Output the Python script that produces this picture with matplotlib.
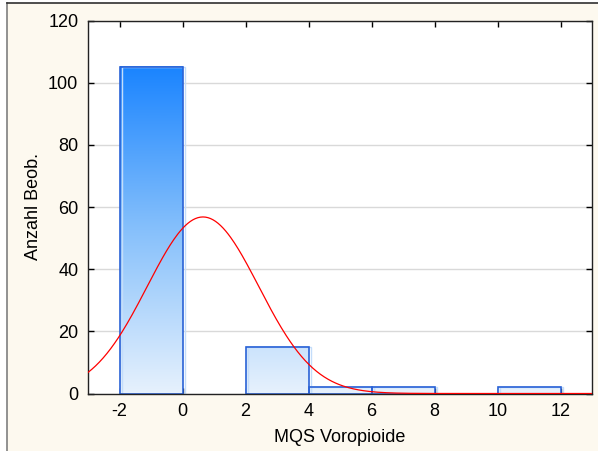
import numpy as np
import matplotlib.pyplot as plt
from matplotlib.colors import LinearSegmentedColormap, Normalize
from matplotlib.patches import Rectangle
from matplotlib.lines import Line2D

# histogram of MQS Voropioide, bins of width 2
bin_edges = [-2, 0, 2, 4, 6, 8, 10, 12]
counts = [105, 0, 15, 2, 2, 0, 2]

# fitted normal distribution
fit_mean = 0.65
fit_sd = 1.77

x_ticks = [-2, 0, 2, 4, 6, 8, 10, 12]
y_ticks = [0, 20, 40, 60, 80, 100, 120]

plt.rcParams['font.family'] = ['Liberation Sans', 'DejaVu Sans']
plt.rcParams['axes.unicode_minus'] = False

fig = plt.figure(figsize=(5.98, 4.51), dpi=100)
fig.patch.set_facecolor('white')

# cream panel with a thin frame at the left and top
bg = Rectangle((7 / 598, 0), 1, 1 - 3 / 451, transform=fig.transFigure,
               facecolor='#fdf9ef', edgecolor='none', zorder=-5)
fig.add_artist(bg)
fig.add_artist(Line2D([7 / 598, 7 / 598], [0, 1 - 3 / 451], transform=fig.transFigure,
                      color='#7f7f7f', lw=1.2))
fig.add_artist(Line2D([7 / 598, 1], [1 - 3 / 451, 1 - 3 / 451], transform=fig.transFigure,
                      color='#303030', lw=1.2))

ax = fig.add_axes([88 / 598, (451 - 393.5) / 451, (592 - 88) / 598, (393.5 - 20.5) / 451])
ax.set_facecolor('white')

cmap = LinearSegmentedColormap.from_list('bars', ['#e6f1fd', '#86c0fb', '#1a84ff'])
norm = Normalize(0, max(counts))

for left, right, c in zip(bin_edges[:-1], bin_edges[1:], counts):
    if c == 0:
        continue
    grad = np.linspace(0, c, 256).reshape(-1, 1)
    ax.imshow(grad, cmap=cmap, norm=norm, origin='lower', aspect='auto',
              extent=[left, right, 0, c], interpolation='bilinear', zorder=1)
    ax.add_patch(Rectangle((left + 0.07, 0), right - left, c, facecolor='none',
                           edgecolor='#c4ddfa', lw=1.0, zorder=1.5))
    ax.add_patch(Rectangle((left, 0), right - left, c, facecolor='none',
                           edgecolor='#2a62d6', lw=1.2, zorder=2))

# expected counts from the normal fit
n_total = sum(counts)
width = bin_edges[1] - bin_edges[0]
xs = np.linspace(-3, 13, 400)
ys = n_total * width / (fit_sd * np.sqrt(2 * np.pi)) * np.exp(-0.5 * ((xs - fit_mean) / fit_sd) ** 2)
ax.plot(xs, ys, color='#ff0000', lw=0.9, zorder=3)

ax.set_xlim(-3, 13)
ax.set_ylim(0, 120)
ax.set_xticks(x_ticks)
ax.set_yticks(y_ticks)
ax.yaxis.grid(True, color='#d9d9d9', lw=1.0)
ax.set_axisbelow(True)
ax.tick_params(direction='in', length=4, width=1, top=True, right=True,
               labelsize=13, colors='black', pad=7)
for s in ax.spines.values():
    s.set_color('#222222')
    s.set_linewidth(1.0)

ax.set_xlabel('MQS Voropioide', fontsize=13, labelpad=6)
ax.set_ylabel('Anzahl Beob.', fontsize=13, labelpad=4)

fig.savefig('out.png', dpi=100)
